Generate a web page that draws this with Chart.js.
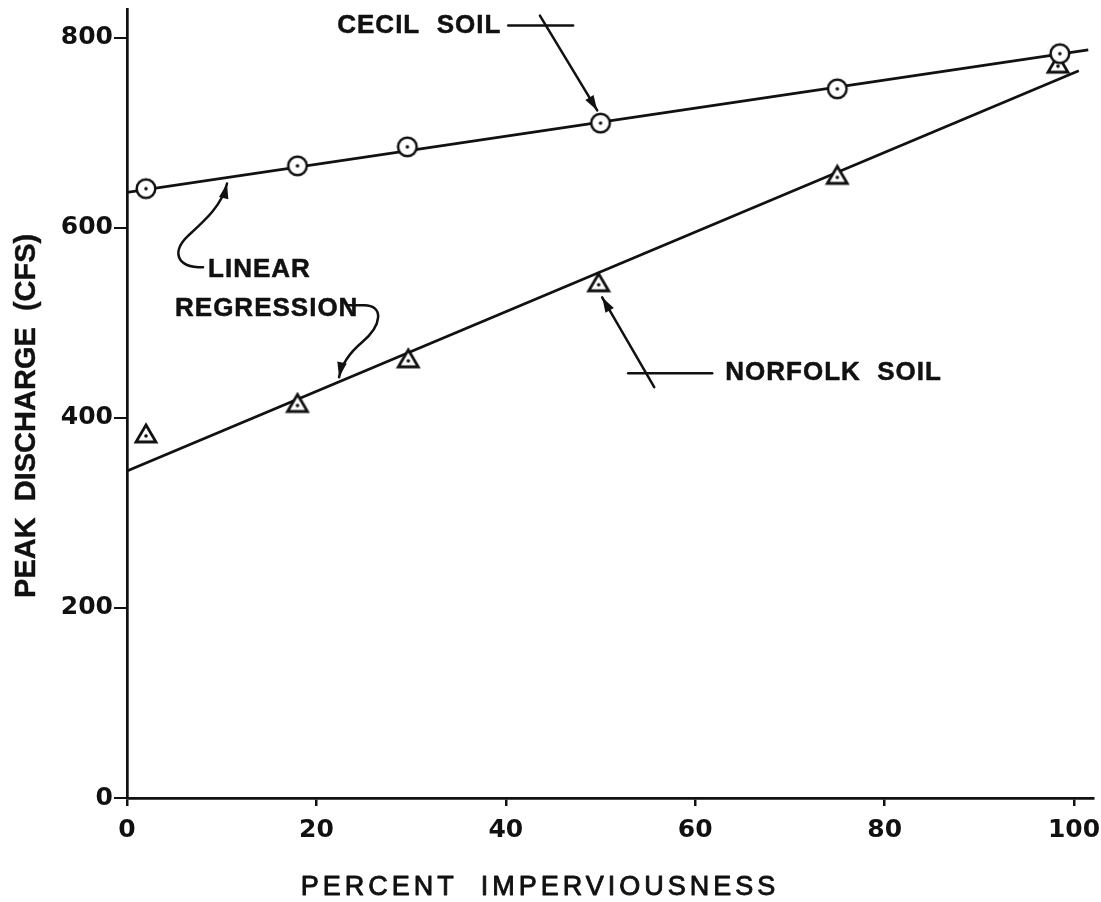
<!DOCTYPE html>
<html><head><meta charset="utf-8">
<script src="https://cdn.jsdelivr.net/npm/chart.js@4"></script>
<style>html,body{margin:0;padding:0;background:#fff;} canvas{display:block;}</style>
</head><body>
<canvas id="c" width="1101" height="902"></canvas>
<script>
// ---- data ----
const xTicks = [0, 20, 40, 60, 80, 100];
const yTicks = [0, 200, 400, 600, 800];
const cecilX = [2, 18, 29.6, 50, 75, 98.5];
const cecilY = [641, 665, 685, 710, 746, 783];
const norfolkX = [2, 18, 29.7, 49.8, 75, 98.3];
const norfolkY = [383, 415, 462, 542, 655, 772];
const cecilFitX = [0, 101.5];
const cecilFitY = [637, 787];
const norfolkFitX = [0, 100.5];
const norfolkFitY = [344, 765];
const xTitle = 'PERCENT  IMPERVIOUSNESS';
const yTitle = 'PEAK  DISCHARGE  (CFS)';

const INK = '#111';
const zip = (xs, ys) => xs.map((v, i) => ({x: v, y: ys[i]}));

function circleImg() {
  const c = document.createElement('canvas'); c.width = 26; c.height = 26;
  const g = c.getContext('2d');
  g.fillStyle = '#fff'; g.strokeStyle = INK; g.lineWidth = 2.5;
  g.beginPath(); g.arc(13, 13, 9.3, 0, Math.PI * 2); g.fill(); g.stroke();
  g.fillStyle = INK; g.beginPath(); g.arc(13, 13, 1.8, 0, Math.PI * 2); g.fill();
  return c;
}
function triImg() {
  const c = document.createElement('canvas'); c.width = 26; c.height = 24;
  const g = c.getContext('2d');
  g.fillStyle = '#fff'; g.strokeStyle = INK; g.lineWidth = 2.8; g.lineJoin = 'miter';
  g.beginPath(); g.moveTo(13, 3); g.lineTo(23, 20); g.lineTo(3, 20); g.closePath(); g.fill(); g.stroke();
  g.fillStyle = INK; g.beginPath(); g.arc(13, 14, 1.8, 0, Math.PI * 2); g.fill();
  return c;
}

// annotation geometry in data units
const notes = {
  cecilText: {x: 22.2, y: 805, text: 'CECIL  SOIL'},
  cecilBar: [[40.25, 812.6], [47.1, 812.6]],
  cecilArrow: [[43.6, 823], [49.65, 723.3]],
  linText: {x: 8.56, y: 547.8, text: 'LINEAR'},
  regText: {x: 5.07, y: 506.8, text: 'REGRESSION'},
  linCurve: [[8.03, 558.2], [5.0, 558.2], [4.8, 576.1], [6.5, 591.9], [8.24, 607.6], [10.03, 623.4], [10.56, 646.5]],
  regCurve: [[23.34, 518.3], [25.03, 518.3], [27.15, 518.3], [26.94, 497.2], [24.82, 479.4], [23.56, 468.9], [22.71, 458.3], [22.39, 442.6]],
  norText: {x: 63.17, y: 439.5, text: 'NORFOLK  SOIL'},
  norBar: [[52.92, 446.8], [61.79, 446.8]],
  norArrow: [[55.67, 432.1], [50.17, 526.7]]
};

function arrowHead(ctx, from, tip) {
  const a = Math.atan2(tip[1] - from[1], tip[0] - from[0]);
  const L = 15, W = 4.8;
  ctx.beginPath();
  ctx.moveTo(tip[0], tip[1]);
  ctx.lineTo(tip[0] - L * Math.cos(a) + W * Math.sin(a), tip[1] - L * Math.sin(a) - W * Math.cos(a));
  ctx.lineTo(tip[0] - L * Math.cos(a) - W * Math.sin(a), tip[1] - L * Math.sin(a) + W * Math.cos(a));
  ctx.closePath(); ctx.fill();
}

function heavyText(ctx, text, px, py, w) {
  ctx.fillText(text, px, py);
  ctx.lineWidth = w; ctx.lineJoin = 'round';
  ctx.strokeText(text, px, py);
}

const annotPlugin = {
  id: 'annot',
  afterDraw(chart) {
    const {ctx, scales: {x, y}} = chart;
    const P = p => [x.getPixelForValue(p[0]), y.getPixelForValue(p[1])];
    ctx.save();
    ctx.fillStyle = INK; ctx.strokeStyle = INK; ctx.lineCap = 'round';
    // texts
    ctx.font = 'bold 26px "Liberation Sans", Arial, sans-serif';
    ctx.textBaseline = 'alphabetic'; ctx.textAlign = 'left';
    ctx.letterSpacing = '1px';
    for (const t of [notes.cecilText, notes.linText, notes.regText, notes.norText]) {
      heavyText(ctx, t.text, x.getPixelForValue(t.x), y.getPixelForValue(t.y), 0.5);
    }
    ctx.lineWidth = 2.5;
    // straight lines
    for (const seg of [notes.cecilBar, notes.norBar]) {
      const a = P(seg[0]), b = P(seg[1]);
      ctx.beginPath(); ctx.moveTo(a[0], a[1]); ctx.lineTo(b[0], b[1]); ctx.stroke();
    }
    for (const seg of [notes.cecilArrow, notes.norArrow]) {
      const a = P(seg[0]), b = P(seg[1]);
      ctx.beginPath(); ctx.moveTo(a[0], a[1]); ctx.lineTo(b[0], b[1]); ctx.stroke();
      arrowHead(ctx, a, b);
    }
    // curved arrows
    {
      const p = notes.linCurve.map(P);
      ctx.beginPath(); ctx.moveTo(...p[0]);
      ctx.bezierCurveTo(...p[1], ...p[2], ...p[3]);
      ctx.bezierCurveTo(...p[4], ...p[5], ...p[6]);
      ctx.stroke(); arrowHead(ctx, p[5], p[6]);
    }
    {
      const p = notes.regCurve.map(P);
      ctx.beginPath(); ctx.moveTo(...p[0]); ctx.lineTo(...p[1]);
      ctx.bezierCurveTo(...p[2], ...p[3], ...p[4]);
      ctx.bezierCurveTo(...p[5], ...p[6], ...p[7]);
      ctx.stroke(); arrowHead(ctx, p[6], p[7]);
    }
    // axis titles
    ctx.font = '27px "Liberation Sans", Arial, sans-serif';
    ctx.letterSpacing = '4px';
    ctx.textAlign = 'center';
    heavyText(ctx, xTitle, x.getPixelForValue(43.6), y.getPixelForValue(0) + 97, 0.9);
    ctx.font = 'bold 29px "Liberation Sans", Arial, sans-serif';
    ctx.letterSpacing = '0px';
    ctx.translate(35, y.getPixelForValue(402));
    ctx.rotate(-Math.PI / 2);
    heavyText(ctx, yTitle, 0, 0, 0.4);
    ctx.restore();
  }
};

const tickFont = {family: '"DejaVu Sans", sans-serif', size: 25, weight: 'bold'};

new Chart(document.getElementById('c'), {
  type: 'scatter',
  data: {
    datasets: [
      {label: 'Cecil soil', data: zip(cecilX, cecilY), pointStyle: circleImg(), order: 0, showLine: false},
      {label: 'Norfolk soil', data: zip(norfolkX, norfolkY), pointStyle: triImg(), order: 1, showLine: false},
      {label: 'Cecil regression', data: zip(cecilFitX, cecilFitY), showLine: true, pointRadius: 0,
       borderColor: INK, borderWidth: 2.7, order: 2},
      {label: 'Norfolk regression', data: zip(norfolkFitX, norfolkFitY), showLine: true, pointRadius: 0,
       borderColor: INK, borderWidth: 2.7, order: 3}
    ]
  },
  options: {
    responsive: false, animation: false, events: [],
    layout: {padding: {top: 9, right: 8, left: 0, bottom: 0}},
    plugins: {legend: {display: false}, tooltip: {enabled: false}},
    scales: {
      x: {
        type: 'linear', min: 0, max: 102,
        afterBuildTicks: s => { s.ticks = xTicks.map(v => ({value: v})); },
        afterFit: s => { s.height = 104; s.paddingLeft = 0; s.paddingRight = 0; },
        ticks: {font: tickFont, color: INK, padding: 9, maxRotation: 0, autoSkip: false},
        grid: {display: true, drawOnChartArea: false, drawTicks: true, tickLength: 8, color: INK, lineWidth: 2.5},
        border: {display: true, color: INK, width: 2.7}
      },
      y: {
        type: 'linear', min: 0, max: 830,
        afterBuildTicks: s => { s.ticks = yTicks.map(v => ({value: v})); },
        afterFit: s => { s.width = 127; s.paddingTop = 0; s.paddingBottom = 0; },
        ticks: {font: tickFont, color: INK, padding: 1, autoSkip: false},
        grid: {display: true, drawOnChartArea: false, drawTicks: true, tickLength: 13, color: INK, lineWidth: 2},
        border: {display: true, color: INK, width: 2.7}
      }
    }
  },
  plugins: [annotPlugin]
});
</script>
</body></html>
